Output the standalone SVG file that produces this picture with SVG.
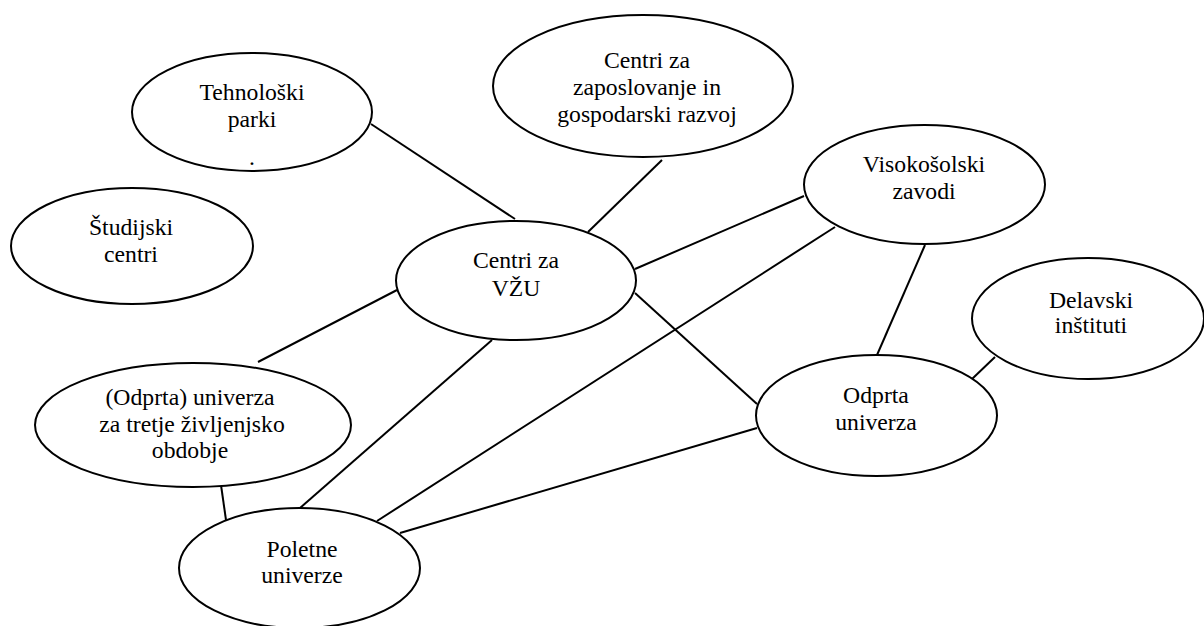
<svg xmlns="http://www.w3.org/2000/svg" width="1204" height="626" viewBox="0 0 1204 626">
<style>
.n{fill:#fff;stroke:#000;stroke-width:2}
.t{font-family:"Liberation Serif","Times New Roman",serif;font-size:23.7px;fill:#000;text-anchor:middle}
#edges line{stroke:#000;stroke-width:2}
</style>
<rect width="1204" height="626" fill="#fff"/>
<g id="edges">
<line x1="371" y1="124" x2="515" y2="219"/>
<line x1="662" y1="160" x2="588" y2="232"/>
<line x1="635" y1="269" x2="804" y2="196"/>
<line x1="397" y1="290" x2="258" y2="362"/>
<line x1="492" y1="340" x2="300" y2="508"/>
<line x1="635" y1="293" x2="757" y2="404"/>
<line x1="835" y1="227" x2="377" y2="521"/>
<line x1="925" y1="245" x2="877" y2="355"/>
<line x1="995" y1="357" x2="972" y2="379"/>
<line x1="757" y1="428" x2="400" y2="533"/>
<line x1="221" y1="485" x2="226" y2="520"/>
</g>
<g id="tehnoloski">
<ellipse class="n" cx="252" cy="112" rx="120" ry="59"/>
<text class="t" x="252" y="100">Tehnološki</text>
<text class="t" x="252" y="127">parki</text>
<text class="t" x="252" y="165">.</text>
</g>
<g id="zaposlovanje">
<ellipse class="n" cx="643" cy="86" rx="150" ry="71"/>
<text class="t" x="647" y="68">Centri za</text>
<text class="t" x="647" y="95">zaposlovanje in</text>
<text class="t" x="647" y="122">gospodarski razvoj</text>
</g>
<g id="studijski">
<ellipse class="n" cx="132" cy="246" rx="121" ry="58"/>
<text class="t" x="131" y="235">Študijski</text>
<text class="t" x="131" y="262">centri</text>
</g>
<g id="vzu">
<ellipse class="n" cx="516" cy="280.5" rx="120" ry="59.5"/>
<text class="t" x="516" y="268">Centri za</text>
<text class="t" x="516" y="296">VŽU</text>
</g>
<g id="visokosolski">
<ellipse class="n" cx="924.5" cy="184.5" rx="120.5" ry="59.5"/>
<text class="t" x="924" y="172">Visokošolski</text>
<text class="t" x="924" y="199">zavodi</text>
</g>
<g id="delavski">
<ellipse class="n" cx="1088" cy="318.5" rx="116" ry="60.5"/>
<text class="t" x="1091" y="308">Delavski</text>
<text class="t" x="1091" y="333">inštituti</text>
</g>
<g id="odprta">
<ellipse class="n" cx="876.5" cy="415.5" rx="120.5" ry="60.5"/>
<text class="t" x="876" y="403">Odprta</text>
<text class="t" x="876" y="430">univerza</text>
</g>
<g id="tretje">
<ellipse class="n" cx="193" cy="425" rx="158" ry="62"/>
<text class="t" x="190" y="405">(Odprta) univerza</text>
<text class="t" x="192" y="432">za tretje življenjsko</text>
<text class="t" x="190" y="458">obdobje</text>
</g>
<g id="poletne">
<ellipse class="n" cx="299.5" cy="568" rx="120.5" ry="60"/>
<text class="t" x="302" y="557">Poletne</text>
<text class="t" x="302" y="583">univerze</text>
</g>
</svg>
